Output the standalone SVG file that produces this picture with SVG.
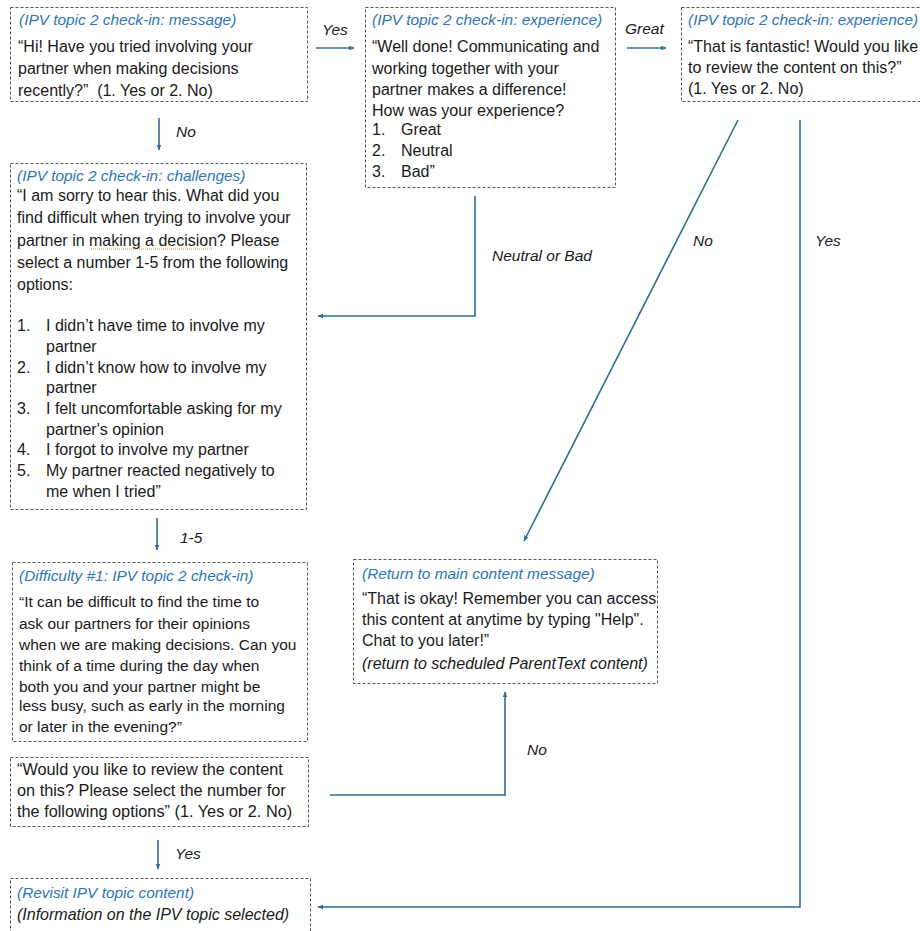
<svg xmlns="http://www.w3.org/2000/svg" width="920" height="931" viewBox="0 0 920 931">
<defs>
<style>
.box{fill:#fff;stroke:#555;stroke-width:1;stroke-dasharray:3 2}
text{font-family:"Liberation Sans","Open Sans",sans-serif;font-size:16px;fill:#1a1a1a;white-space:pre}
.t{fill:#2E75B6;font-style:italic;font-size:15.4px}
.i{font-style:italic}
.lbl{font-style:italic;font-size:15.5px}
.s{font-size:15.5px}
.w{font-size:16.3px}
.c{fill:none;stroke:#2E6E91;stroke-width:1.6}
</style>
<marker id="ah" viewBox="0 0 10 10" refX="9" refY="5" markerWidth="6" markerHeight="6" orient="auto" markerUnits="userSpaceOnUse">
<path d="M0,1 L10,5 L0,9 z" fill="#2E6E91"/>
</marker>
</defs>

<g id="connectors">
<line class="c" x1="316" y1="48" x2="354" y2="48" marker-end="url(#ah)"/>
<text class="lbl" x="322" y="35">Yes</text>
<line class="c" x1="627" y1="48" x2="666" y2="48" marker-end="url(#ah)"/>
<text class="lbl" x="625" y="34">Great</text>
<line class="c" x1="159" y1="118" x2="159" y2="150" marker-end="url(#ah)"/>
<text class="lbl" x="176" y="137">No</text>
<path class="c" d="M475,196 V316 H318" marker-end="url(#ah)"/>
<text class="lbl" x="492" y="261">Neutral or Bad</text>
<line class="c" x1="738" y1="120" x2="524" y2="541" marker-end="url(#ah)"/>
<text class="lbl" x="693" y="246">No</text>
<path class="c" d="M800,120 V907 H318" marker-end="url(#ah)"/>
<text class="lbl" x="815" y="246">Yes</text>
<line class="c" x1="157" y1="518" x2="157" y2="550" marker-end="url(#ah)"/>
<text class="lbl" x="180" y="543">1-5</text>
<path class="c" d="M330,795 H505 V692" marker-end="url(#ah)"/>
<text class="lbl" x="527" y="755">No</text>
<line class="c" x1="158" y1="840" x2="158" y2="869" marker-end="url(#ah)"/>
<text class="lbl" x="175" y="859">Yes</text>
</g>

<g id="n-message">
<rect class="box" x="10.5" y="7.5" width="297" height="94"/>
<text class="t" x="19" y="25">(IPV topic 2 check-in: message)</text>
<text x="18" y="52">“Hi! Have you tried involving your</text>
<text x="18" y="74">partner when making decisions</text>
<text x="18" y="96">recently?”  (1. Yes or 2. No)</text>
</g>

<g id="n-experience">
<rect class="box" x="365.5" y="7.5" width="250" height="180"/>
<text class="t" x="372" y="25">(IPV topic 2 check-in: experience)</text>
<text x="372" y="52">“Well done! Communicating and</text>
<text x="372" y="74">working together with your</text>
<text x="372" y="95">partner makes a difference!</text>
<text x="372" y="116">How was your experience?</text>
<text x="372" y="135">1.</text><text x="401" y="135">Great</text>
<text x="372" y="156">2.</text><text x="401" y="156">Neutral</text>
<text x="372" y="177">3.</text><text x="401" y="177">Bad”</text>
</g>

<g id="n-fantastic">
<rect class="box" x="681.5" y="7.5" width="250" height="94"/>
<text class="t" x="688" y="25">(IPV topic 2 check-in: experience)</text>
<text x="688" y="52">“That is fantastic! Would you like</text>
<text x="688" y="73">to review the content on this?”</text>
<text x="688" y="94">(1. Yes or 2. No)</text>
</g>

<g id="n-challenges">
<rect class="box" x="10.5" y="163.5" width="296" height="346"/>
<text class="t" x="17" y="181">(IPV topic 2 check-in: challenges)</text>
<text x="17" y="201">“I am sorry to hear this. What did you</text>
<text x="17" y="223">find difficult when trying to involve your</text>
<text x="17" y="246">partner in making a decision? Please</text>
<line x1="91" y1="249" x2="212" y2="249" stroke="#c89a4a" stroke-width="1" stroke-dasharray="1 1"/>
<text x="17" y="268">select a number 1-5 from the following</text>
<text x="17" y="290">options:</text>
<text x="17" y="331">1.</text><text x="46" y="331">I didn’t have time to involve my</text>
<text x="46" y="352">partner</text>
<text x="17" y="373">2.</text><text x="46" y="373">I didn’t know how to involve my</text>
<text x="46" y="393">partner</text>
<text x="17" y="414">3.</text><text x="46" y="414">I felt uncomfortable asking for my</text>
<text x="46" y="435">partner's opinion</text>
<text x="17" y="455">4.</text><text x="46" y="455">I forgot to involve my partner</text>
<text x="17" y="476">5.</text><text x="46" y="476">My partner reacted negatively to</text>
<text x="46" y="497">me when I tried”</text>
</g>

<g id="n-difficulty">
<rect class="box" x="12.5" y="562.5" width="295" height="179"/>
<text class="t" x="19" y="581">(Difficulty #1: IPV topic 2 check-in)</text>
<text class="s" x="19" y="607">“It can be difficult to find the time to</text>
<text class="s" x="19" y="629">ask our partners for their opinions</text>
<text class="s" x="19" y="650">when we are making decisions. Can you</text>
<text class="s" x="19" y="671">think of a time during the day when</text>
<text class="s" x="19" y="692">both you and your partner might be</text>
<text class="s" x="19" y="711">less busy, such as early in the morning</text>
<text class="s" x="19" y="732">or later in the evening?”</text>
</g>

<g id="n-return">
<rect class="box" x="353.5" y="559.5" width="304" height="124"/>
<text class="t" x="362" y="579">(Return to main content message)</text>
<text x="362" y="604">“That is okay! Remember you can access</text>
<text x="362" y="625">this content at anytime by typing "Help".</text>
<text x="362" y="646">Chat to you later!”</text>
<text class="i" x="362" y="669">(return to scheduled ParentText content)</text>
</g>

<g id="n-review">
<rect class="box" x="10.5" y="757.5" width="298" height="69"/>
<text class="w" x="17" y="775">“Would you like to review the content</text>
<text class="w" x="17" y="796">on this? Please select the number for</text>
<text class="w" x="17" y="817">the following options” (1. Yes or 2. No)</text>
</g>

<g id="n-revisit">
<rect class="box" x="10.5" y="878.5" width="300" height="60"/>
<text class="t" x="17" y="898">(Revisit IPV topic content)</text>
<text class="i" x="17" y="920">(Information on the IPV topic selected)</text>
</g>
</svg>
